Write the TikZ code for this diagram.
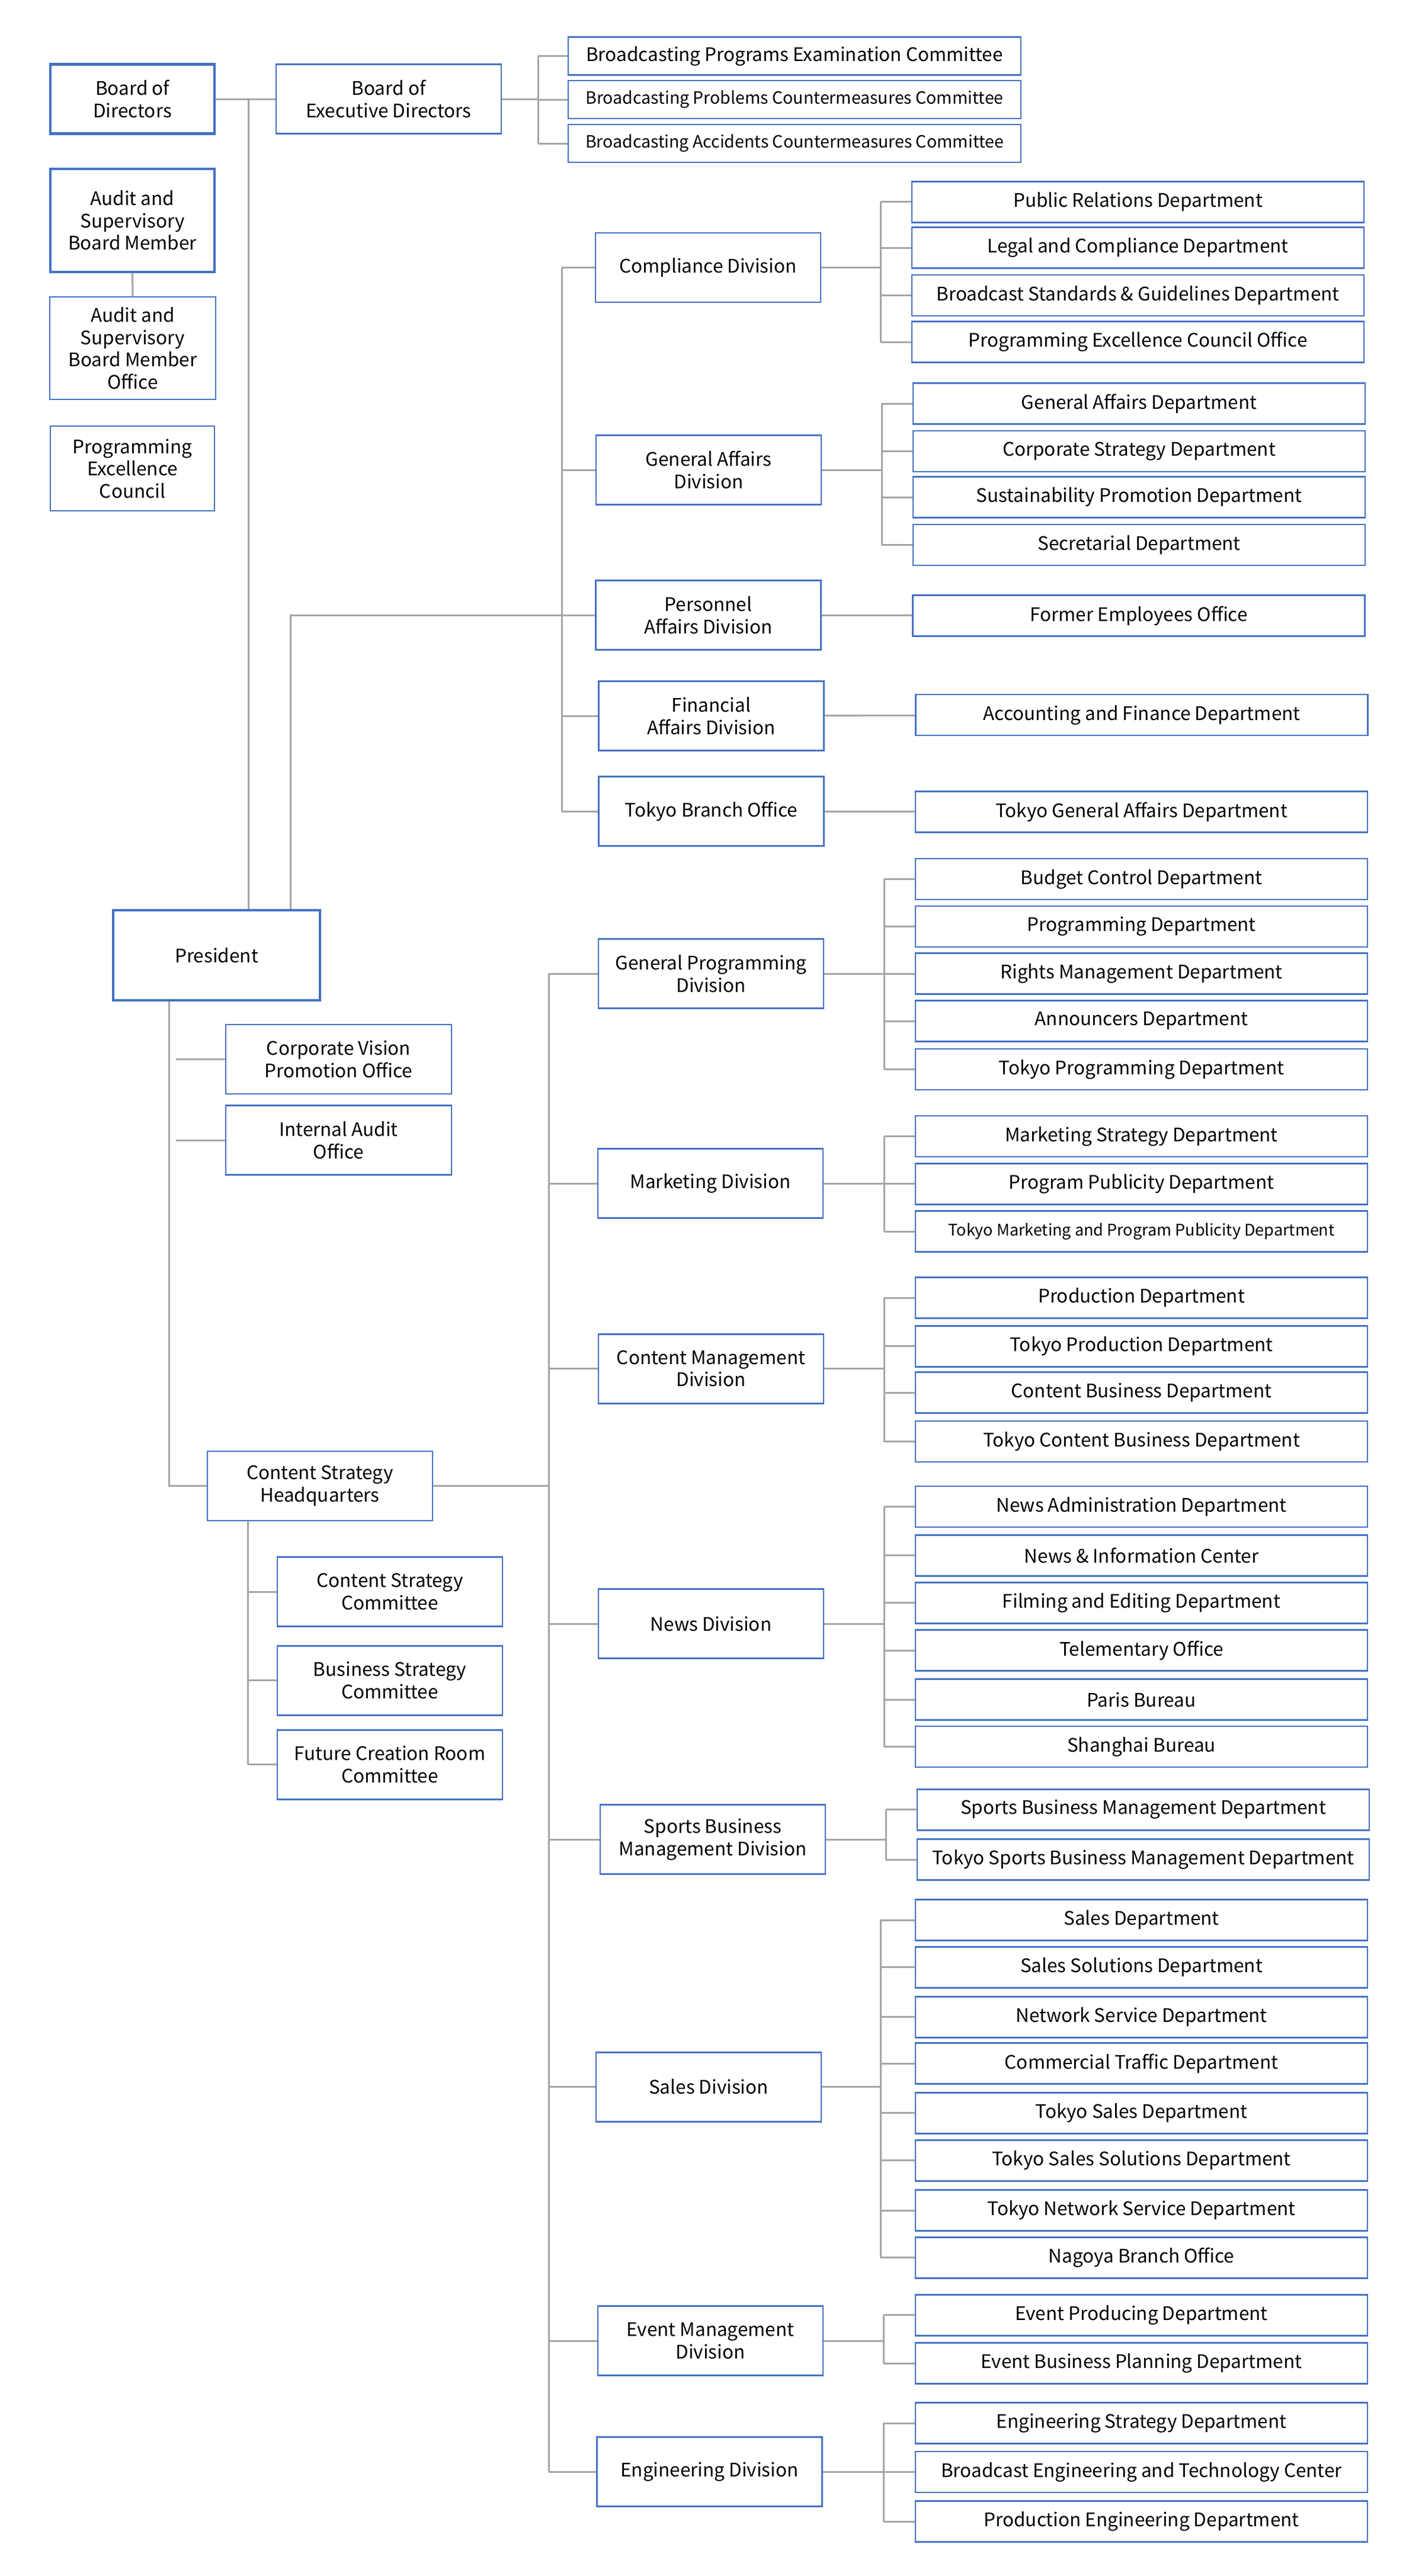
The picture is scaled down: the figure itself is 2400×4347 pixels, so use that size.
\documentclass[tikz,border=0pt]{standalone}
\usepackage{fontspec}
\setmainfont{Noto Sans CJK JP}
\definecolor{orgblue}{HTML}{4472C4}
\definecolor{orggrey}{HTML}{A5A5A5}
\tikzset{
  unit/.style={draw=orgblue, line width=2.8pt, fill=white, align=center, inner sep=0pt,
    text=black, font=\fontsize{31.5}{37.5}\selectfont},
  topunit/.style={unit, line width=4.5pt},
  divunit/.style={unit, minimum width=380pt, minimum height=117pt},
  deptunit/.style={unit, minimum width=763pt, minimum height=69pt},
  cmtunit/.style={unit, minimum width=764pt, minimum height=64pt},
  small/.style={font=\fontsize{28.5}{34}\selectfont},
  link/.style={draw=orggrey, line width=3pt}
}
\begin{document}
\begin{tikzpicture}[x=1pt, y=-1pt]
  \path[fill=white] (0,0) rectangle (2400,4347);

  \node[topunit, minimum width=277pt, minimum height=117pt] (bod) at (223.5,167) {Board of\\Directors};
  \node[divunit] (bed) at (656,167) {Board of\\Executive Directors};
  \node[cmtunit] (bpec) at (1341,94.5) {Broadcasting Programs Examination Committee};
  \node[cmtunit, small] (bpcc) at (1341,168) {Broadcasting Problems Countermeasures Committee};
  \node[cmtunit, small] (bacc) at (1341,242) {Broadcasting Accidents Countermeasures Committee};
  \coordinate (cmtbr) at (908,0);
  \draw[link] (bod) -- (bed);
  \draw[link] (bed) -- (bed -| cmtbr);
  \draw[link] (cmtbr |- bpec) -- (cmtbr |- bacc);
  \foreach \n in {bpec,bpcc,bacc} \draw[link] (cmtbr |- \n) -- (\n);

  \node[topunit, minimum width=277pt, minimum height=174pt] (asbm) at (223.5,372) {Audit and\\Supervisory\\Board Member};
  \node[unit, minimum width=280pt, minimum height=173pt] (asbmo) at (224,587.5) {Audit and\\Supervisory\\Board Member\\Office};
  \node[unit, minimum width=277pt, minimum height=143pt] (pecl) at (223.5,790.5) {Programming\\Excellence\\Council};
  \draw[link] (asbm) -- (asbmo);

  \node[topunit, minimum width=349pt, minimum height=152pt] (pres) at (365.5,1612) {President};
  \coordinate (bodj) at (419,167);
  \draw[link] (bodj) -- (bodj |- pres.north);

  \node[divunit] (comp) at (1195,451.5) {Compliance Division};
  \node[divunit] (gad) at (1196,793) {General Affairs\\Division};
  \node[divunit] (pad) at (1195.5,1038) {Personnel\\Affairs Division};
  \node[divunit] (fad) at (1200.5,1208) {Financial\\Affairs Division};
  \node[divunit] (tbo) at (1200.5,1369) {Tokyo Branch Office};
  \coordinate (admbr) at (948,0);
  \coordinate (presj) at (490,1038);
  \draw[link] (presj |- pres.north) -- (presj) -- (admbr |- pad);
  \draw[link] (admbr |- comp) -- (admbr |- tbo);
  \foreach \n in {comp,gad,pad,fad,tbo} \draw[link] (admbr |- \n) -- (\n);

  \foreach \n/\y/\t in {prd/340.6/Public Relations Department, lcd/418/Legal and Compliance Department,
      bsgd/498.5/Broadcast Standards \& Guidelines Department, peco/577/Programming Excellence Council Office}
    \node[deptunit] (\n) at (1920.5,\y) {\t};
  \coordinate (compbr) at (1486,0);
  \draw[link] (comp) -- (comp -| compbr);
  \draw[link] (compbr |- prd) -- (compbr |- peco);
  \foreach \n in {prd,lcd,bsgd,peco} \draw[link] (compbr |- \n) -- (\n);

  \foreach \n/\y/\t in {gadep/681/General Affairs Department, csd/761.5/Corporate Strategy Department,
      spd/839/Sustainability Promotion Department, secd/919.5/Secretarial Department}
    \node[deptunit] (\n) at (1922.5,\y) {\t};
  \coordinate (gabr) at (1488,0);
  \draw[link] (gad) -- (gad -| gabr);
  \draw[link] (gabr |- gadep) -- (gabr |- secd);
  \foreach \n in {gadep,csd,spd,secd} \draw[link] (gabr |- \n) -- (\n);

  \node[deptunit] (feo) at (1922,1039) {Former Employees Office};
  \node[deptunit] (afd) at (1927,1206.5) {Accounting and Finance Department};
  \node[deptunit] (tgad) at (1926.5,1370) {Tokyo General Affairs Department};
  \draw[link] (pad) -- (feo);
  \draw[link] (fad) -- (afd);
  \draw[link] (tbo) -- (tgad);

  \node[unit, minimum width=381pt, minimum height=117pt] (cvpo) at (571.5,1787.5) {Corporate Vision\\Promotion Office};
  \node[unit, minimum width=381pt, minimum height=117pt] (iao) at (571.5,1924) {Internal Audit\\Office};
  \node[divunit] (csh) at (540,2507.5) {Content Strategy\\Headquarters};
  \coordinate (presk) at (285,2507.5);
  \coordinate (staffj) at (296.5,0);
  \draw[link] (presk |- pres.south) -- (presk) -- (csh);
  \draw[link] (staffj |- cvpo) -- (cvpo);
  \draw[link] (staffj |- iao) -- (iao);

  \foreach \n/\y/\t in {csc/2686/Content Strategy\\Committee, bsc/2835.6/Business Strategy\\Committee,
      fcrc/2977.6/Future Creation Room\\Committee}
    \node[divunit] (\n) at (658,\y) {\t};
  \coordinate (cshj) at (418.6,0);
  \draw[link] (cshj |- csh.south) -- (cshj |- fcrc);
  \foreach \n in {csc,bsc,fcrc} \draw[link] (cshj |- \n) -- (\n);

  \node[divunit] (gpd) at (1200,1643) {General Programming\\Division};
  \node[divunit] (mkd) at (1199,1997) {Marketing Division};
  \node[divunit] (cmd) at (1200,2309.6) {Content Management\\Division};
  \node[divunit] (nwd) at (1200,2740) {News Division};
  \node[divunit] (sbmd) at (1203,3104) {Sports Business\\Management Division};
  \node[divunit] (sld) at (1196,3521.6) {Sales Division};
  \node[divunit] (emd) at (1199,3950) {Event Management\\Division};
  \node[divunit] (engd) at (1197.5,4171) {Engineering Division};
  \coordinate (cntbr) at (926,0);
  \draw[link] (csh) -- (csh -| cntbr);
  \draw[link] (cntbr |- gpd) -- (cntbr |- engd);
  \foreach \n in {gpd,mkd,cmd,nwd,sbmd,sld,emd,engd} \draw[link] (cntbr |- \n) -- (\n);

  \foreach \n/\y/\t in {bcd/1483.5/Budget Control Department, pgd/1563.5/Programming Department,
      rmd/1643/Rights Management Department, and/1723/Announcers Department,
      tpgd/1804.5/Tokyo Programming Department}
    \node[deptunit] (\n) at (1926.5,\y) {\t};
  \coordinate (gpbr) at (1492,0);
  \draw[link] (gpd) -- (gpd -| gpbr);
  \draw[link] (gpbr |- bcd) -- (gpbr |- tpgd);
  \foreach \n in {bcd,pgd,rmd,and,tpgd} \draw[link] (gpbr |- \n) -- (\n);

  \node[deptunit] (msd) at (1926.5,1917.5) {Marketing Strategy Department};
  \node[deptunit] (ppd) at (1926.5,1997.6) {Program Publicity Department};
  \node[deptunit, font=\fontsize{27}{32}\selectfont] (tmpd) at (1926.5,2078) {Tokyo Marketing and Program Publicity Department};
  \coordinate (mkbr) at (1492,0);
  \draw[link] (mkd) -- (mkd -| mkbr);
  \draw[link] (mkbr |- msd) -- (mkbr |- tmpd);
  \foreach \n in {msd,ppd,tmpd} \draw[link] (mkbr |- \n) -- (\n);

  \foreach \n/\y/\t in {prdd/2190/Production Department, tprdd/2271.6/Tokyo Production Department,
      cbd/2350/Content Business Department, tcbd/2432.5/Tokyo Content Business Department}
    \node[deptunit] (\n) at (1926.5,\y) {\t};
  \coordinate (cmbr) at (1492,0);
  \draw[link] (cmd) -- (cmd -| cmbr);
  \draw[link] (cmbr |- prdd) -- (cmbr |- tcbd);
  \foreach \n in {prdd,tprdd,cbd,tcbd} \draw[link] (cmbr |- \n) -- (\n);

  \foreach \n/\y/\t in {nad/2542.5/News Administration Department, nic/2624.6/News \& Information Center,
      fed/2704.6/Filming and Editing Department, tlo/2785/Telementary Office,
      pbu/2868/Paris Bureau, sbu/2947.5/Shanghai Bureau}
    \node[deptunit] (\n) at (1926.5,\y) {\t};
  \coordinate (nwbr) at (1492,0);
  \draw[link] (nwd) -- (nwd -| nwbr);
  \draw[link] (nwbr |- nad) -- (nwbr |- sbu);
  \foreach \n in {nad,nic,fed,tlo,pbu,sbu} \draw[link] (nwbr |- \n) -- (\n);

  \node[deptunit] (sbmdep) at (1929.5,3053.6) {Sports Business Management Department};
  \node[deptunit] (tsbmd) at (1929.5,3138) {Tokyo Sports Business Management Department};
  \coordinate (sbbr) at (1495,0);
  \draw[link] (sbmd) -- (sbmd -| sbbr);
  \draw[link] (sbbr |- sbmdep) -- (sbbr |- tsbmd);
  \foreach \n in {sbmdep,tsbmd} \draw[link] (sbbr |- \n) -- (\n);

  \foreach \n/\y/\t in {sdep/3240/Sales Department, ssd/3319.6/Sales Solutions Department,
      nsd/3403.6/Network Service Department, ctd/3482/Commercial Traffic Department,
      tsd/3565.6/Tokyo Sales Department, tssd/3645.6/Tokyo Sales Solutions Department,
      tnsd/3730/Tokyo Network Service Department, nbo/3809.6/Nagoya Branch Office}
    \node[deptunit] (\n) at (1926.5,\y) {\t};
  \coordinate (slbr) at (1486,0);
  \draw[link] (sld) -- (sld -| slbr);
  \draw[link] (slbr |- sdep) -- (slbr |- nbo);
  \foreach \n in {sdep,ssd,nsd,ctd,tsd,tssd,tnsd,nbo} \draw[link] (slbr |- \n) -- (\n);

  \node[deptunit] (epd) at (1926.5,3906.6) {Event Producing Department};
  \node[deptunit] (ebpd) at (1926.5,3988) {Event Business Planning Department};
  \coordinate (embr) at (1491,0);
  \draw[link] (emd) -- (emd -| embr);
  \draw[link] (embr |- epd) -- (embr |- ebpd);
  \foreach \n in {epd,ebpd} \draw[link] (embr |- \n) -- (\n);

  \foreach \n/\y/\t in {esd/4089/Engineering Strategy Department,
      betc/4171.5/Broadcast Engineering and Technology Center, ped/4255/Production Engineering Department}
    \node[deptunit] (\n) at (1926.5,\y) {\t};
  \coordinate (engbr) at (1491,0);
  \draw[link] (engd) -- (engd -| engbr);
  \draw[link] (engbr |- esd) -- (engbr |- ped);
  \foreach \n in {esd,betc,ped} \draw[link] (engbr |- \n) -- (\n);
\end{tikzpicture}
\end{document}
